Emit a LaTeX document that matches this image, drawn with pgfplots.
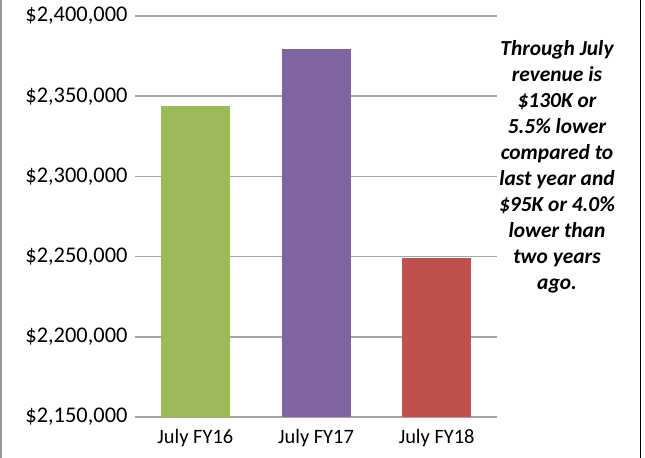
\documentclass[border=0pt]{standalone}
\usepackage{pgfplots}
\pgfplotsset{compat=1.18}
\usepackage{fontspec}
\setmainfont{Carlito}
\definecolor{gridgray}{HTML}{A6A6A6}
\definecolor{cgreen}{HTML}{9BBB59}
\definecolor{cpurple}{HTML}{8064A2}
\definecolor{cred}{HTML}{C0504D}
\begin{document}
\begin{tikzpicture}[x=1bp,y=1bp]
\useasboundingbox (0,0) rectangle (645,458);
\fill[white] (0,0) rectangle (645,458);
\draw[color=gray!80, line width=2bp] (1,0) -- (1,458);
\draw[black, line width=1.5bp] (640.5,0) -- (640.5,458);
\begin{axis}[
  at={(135bp,41bp)}, anchor=south west,
  scale only axis, width=362bp, height=401bp,
  xmin=-0.5, xmax=2.5,
  ymin=2150000, ymax=2400000,
  ytick={2150000,2200000,2250000,2300000,2350000,2400000},
  xtick={0,1,2},
  xticklabels={July FY16, July FY17, July FY18},
  ymajorgrids,
  grid style={color=gridgray, line width=1.5bp},
  axis line style={draw=none},
  tick style={draw=none},
  scaled y ticks=false,
  /pgf/number format/assume math mode=true,
  yticklabel={\$\pgfmathprintnumber[fixed,precision=0,1000 sep={,}]{\tick}},
  yticklabel style={font=\fontsize{22.5}{26}\selectfont, xshift=-4bp},
  xticklabel style={font=\fontsize{20.5}{24}\selectfont, yshift=-5bp},
  ybar, bar width=69bp,
  clip=true,
]
\addplot[fill=cgreen, draw=none, bar shift=0pt] coordinates {(0,2344000)};
\addplot[fill=cpurple, draw=none, bar shift=0pt] coordinates {(1,2379500)};
\addplot[fill=cred, draw=none, bar shift=0pt] coordinates {(2,2249000)};
\end{axis}
\node[align=center, font=\fontsize{21.5}{26.1}\selectfont\bfseries\itshape] at (557,291)
 {Through July\\revenue is\\\$130K or\\5.5\% lower\\compared to\\last year and\\\$95K or 4.0\%\\lower than\\two years\\ago.};
\end{tikzpicture}
\end{document}
